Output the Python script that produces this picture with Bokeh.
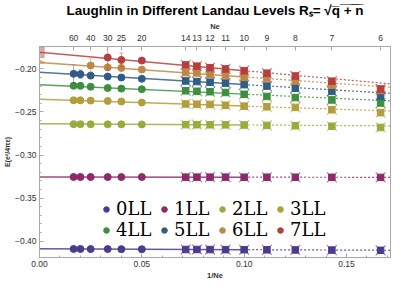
import numpy as np
from bokeh.plotting import figure
from bokeh.models import (LinearAxis, FixedTicker, CustomJSTickFormatter, Range1d, Legend,
                          LegendItem, ColumnDataSource, SingleIntervalTicker, Title)
from bokeh.embed import file_html
from bokeh.resources import INLINE

# ---------------- data ----------------
levels = ["0LL", "1LL", "2LL", "3LL", "4LL", "5LL", "6LL", "7LL"]
colors = ["#4b3b8e", "#8c2a6c", "#9aab3d", "#b29e3a", "#3d8f3d", "#305c86", "#bf8744", "#b73e3f"]

ne_dots = [60, 50, 40, 30, 25, 20]
ne_crosses = [14, 13, 12, 11, 10, 9, 8, 7, 6]
ne_top_ticks = [60, 40, 30, 25, 20, 14, 13, 12, 11, 10, 9, 8, 7, 6]
ne_solid_end = 10

ll0_dots = [-0.4091, -0.4091, -0.4092, -0.4092, -0.4093, -0.4094]
ll1_dots = [-0.3255, -0.3255, -0.3255, -0.3256, -0.3256, -0.3256]
ll2_dots = [-0.2642, -0.2642, -0.2643, -0.2644, -0.2644, -0.2645]
ll3_dots = [-0.2365, -0.2365, -0.2368, -0.2372, -0.2379, -0.2390]
ll4_dots = [-0.2196, -0.2197, -0.2207, -0.2222, -0.2229, -0.2236]
ll5_dots = [-0.2057, -0.2061, -0.2078, -0.2089, -0.2100, -0.2115]
ll6_dots = [None, None, -0.1960, -0.1982, -0.1989, -0.2008]
ll7_dots = [None, None, None, -0.1868, -0.1896, -0.1903]

ll0_crosses = [-0.4097, -0.4097, -0.4098, -0.4099, -0.4100, -0.4101, -0.4102, -0.4104, -0.4107]
ll1_crosses = [-0.3257, -0.3257, -0.3257, -0.3257, -0.3258, -0.3258, -0.3258, -0.3259, -0.3260]
ll2_crosses = [-0.2647, -0.2648, -0.2649, -0.2650, -0.2652, -0.2656, -0.2660, -0.2666, -0.2680]
ll3_crosses = [-0.2408, -0.2410, -0.2413, -0.2422, -0.2433, -0.2440, -0.2447, -0.2474, -0.2508]
ll4_crosses = [-0.2254, -0.2260, -0.2265, -0.2274, -0.2295, -0.2320, -0.2333, -0.2360, -0.2396]
ll5_crosses = [-0.2140, -0.2147, -0.2154, -0.2165, -0.2183, -0.2200, -0.2225, -0.2261, -0.2315]
ll6_crosses = [-0.2043, -0.2047, -0.2061, -0.2075, -0.2097, -0.2107, -0.2143, -0.2190, -0.2250]
ll7_crosses = [-0.1954, -0.1968, -0.1986, -0.2000, -0.2021, -0.2050, -0.2082, -0.2143, -0.2233]

ll0_err = [0, 0, 0, 0, 0, 0]
ll1_err = [0, 0, 0, 0, 0, 0]
ll2_err = [0, 0, 0, 0, 0, 0]
ll3_err = [0, 0, 0, 0, 0, 0]
ll4_err = [0.003, 0, 0, 0, 0, 0]
ll5_err = [0.0107, 0.0048, 0, 0, 0, 0]
ll6_err = [0, 0, 0.0075, 0, 0, 0]
ll7_err = [0, 0, 0, 0.015, 0.008, 0]

# linear extrapolation fits (energy at 1/Ne = 0, slope) and error of the extrapolation
fit_intercept = [-0.4089, -0.3254, -0.2637, -0.2352, -0.2183, -0.2040, -0.1925, -0.1807]
fit_slope = [-0.010, -0.003, -0.014, -0.080, -0.110, -0.142, -0.168, -0.214]
extrap_err = [0, 0, 0, 0, 0, 0, 0.0013, 0.0064]

dots_all = [ll0_dots, ll1_dots, ll2_dots, ll3_dots, ll4_dots, ll5_dots, ll6_dots, ll7_dots]
crosses_all = [ll0_crosses, ll1_crosses, ll2_crosses, ll3_crosses, ll4_crosses, ll5_crosses,
               ll6_crosses, ll7_crosses]
err_all = [ll0_err, ll1_err, ll2_err, ll3_err, ll4_err, ll5_err, ll6_err, ll7_err]

title_text = "Laughlin in Different Landau Levels R\u209b= \u221aq\u0305 \u0305+\u0305 \u0305n\u0305"

# ---------------- figure ----------------
X0, X1 = 0.0, 0.1715
Y0, Y1 = -0.419, -0.174
AX = "#a8a8a8"
TXT = "#333333"

p = figure(width=391, height=282, x_range=Range1d(X0, X1), y_range=Range1d(Y0, Y1),
           output_backend="svg", toolbar_location=None,
           min_border_left=30, min_border_right=1, min_border_top=42, min_border_bottom=20)
p.title = Title(text=title_text, align="center", text_font="Liberation Sans",
                text_font_size="13.5px", text_font_style="bold", text_color="black",
                standoff=1, offset=0)
p.xgrid.visible = False
p.ygrid.visible = False
p.outline_line_color = AX
p.background_fill_color = "white"
p.border_fill_color = "white"

bottom = p.xaxis[0]
left = p.yaxis[0]

xd = 1.0 / np.array(ne_dots, dtype=float)
xc = 1.0 / np.array(ne_crosses, dtype=float)
x_solid_end = 1.0 / ne_solid_end

# extrapolated values at 1/Ne = 0
ext = ColumnDataSource(dict(x=[0.0] * len(levels), y=fit_intercept,
                            h=[2 * e for e in extrap_err], c=colors))
p.rect(x="x", y="y", width=0.0046, height="h", fill_color="c", fill_alpha=0.45,
       line_color="c", line_alpha=0.3, source=ext)

legend_items = []
for i, lvl in enumerate(levels):
    c = colors[i]
    a, b = fit_intercept[i], fit_slope[i]
    p.line([X0, x_solid_end], [a + b * X0, a + b * x_solid_end], line_color=c, line_width=1.5, line_alpha=0.85)
    p.line([x_solid_end, X1], [a + b * x_solid_end, a + b * X1], line_color=c, line_width=1.2,
           line_alpha=0.85, line_dash="2 2")
    yd = np.array(dots_all[i], dtype=float)
    er = np.array(err_all[i], dtype=float)
    m = (er > 0) & ~np.isnan(yd)
    if m.any():
        p.segment(x0=xd[m], y0=yd[m] - er[m], x1=xd[m], y1=yd[m] + er[m], line_color=c,
                  line_alpha=0.45, line_width=1)
        p.scatter(x=np.concatenate([xd[m], xd[m]]), y=np.concatenate([yd[m] - er[m], yd[m] + er[m]]),
                  marker="dash", size=4, line_color=c, line_alpha=0.45)
    r = p.scatter(x=xd, y=yd, marker="circle", size=7, fill_color=c, line_color=c)
    yc = np.array(crosses_all[i], dtype=float)
    p.scatter(x=xc, y=yc, marker="x", size=14, line_color=c, line_alpha=0.65, line_width=1.1)
    p.scatter(x=xc, y=yc, marker="square", size=6.5, fill_color=c, line_color=c)
    legend_items.append(LegendItem(label=lvl, renderers=[r]))

# ---------------- axes ----------------
bottom.ticker = SingleIntervalTicker(interval=0.05, num_minor_ticks=5)
bottom.formatter = CustomJSTickFormatter(code="return tick.toFixed(2)")
left.ticker = SingleIntervalTicker(interval=0.05, num_minor_ticks=5)
left.formatter = CustomJSTickFormatter(
    code="return (tick < 0 ? '\\u2212' : '') + Math.abs(tick).toFixed(2)")
bottom.axis_label = "1/Ne"
left.axis_label = "E(e²/4πε)"

top = LinearAxis(ticker=FixedTicker(ticks=[1.0 / n for n in ne_top_ticks], minor_ticks=[]),
                 formatter=CustomJSTickFormatter(code="return String(Math.round(1/tick))"),
                 axis_label="Ne")
p.add_layout(top, "above")

for ax in [bottom, left, top]:
    ax.axis_line_color = AX
    ax.major_tick_line_color = AX
    ax.minor_tick_line_color = AX
    ax.major_tick_in = 4
    ax.major_tick_out = 0
    ax.minor_tick_in = 2
    ax.minor_tick_out = 0
    ax.major_label_text_font = "Liberation Sans"
    ax.major_label_text_font_size = "8.5px"
    ax.major_label_text_color = TXT
    ax.major_label_standoff = 3
    ax.axis_label_text_font = "Liberation Sans"
    ax.axis_label_text_font_style = "bold"
    ax.axis_label_text_font_size = "7.5px"
    ax.axis_label_text_color = TXT
    ax.axis_label_standoff = 2
left.axis_label_text_font_size = "7px"
left.axis_label_standoff = 1
top.major_label_standoff = 6
top.axis_label_standoff = 1
bottom.major_label_standoff = 3
bottom.axis_label_standoff = 1

# ---------------- legend ----------------
legend = Legend(items=legend_items, orientation="horizontal", ncols=4, location=(60, 17),
                label_text_font="DejaVu Serif", label_text_font_size="18px", label_text_color="black",
                glyph_width=14, glyph_height=14, label_standoff=3, label_width=41, label_height=14,
                spacing=0, padding=0, margin=0, border_line_alpha=0, background_fill_alpha=0)
p.add_layout(legend)

open("out.html", "w").write(file_html(p, INLINE))
